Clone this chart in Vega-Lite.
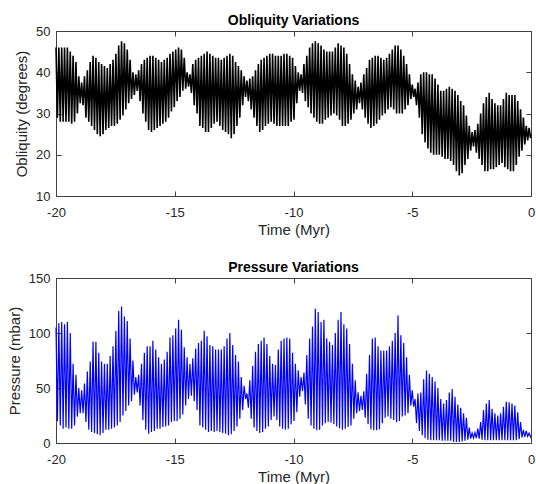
{
"$schema": "https://vega.github.io/schema/vega-lite/v6.json",
"padding": {"left": 7, "top": 14, "right": 5, "bottom": 0},
"bounds": "flush",
"spacing": 82,
"config": {
"font": "Liberation Sans",
"view": {"stroke": null},
"axis": {"grid": false, "labelFont": "Liberation Sans", "labelFontSize": 13, "labelColor": "#262626", "titleFont": "Liberation Sans", "titleFontSize": 15, "titleFontWeight": "normal", "titleColor": "#262626", "domainColor": "#404040", "tickColor": "#404040", "tickSize": -5, "minExtent": 0, "labelFlush": false, "labelExpr": "'' + datum.value"},
"title": {"font": "Liberation Sans", "fontSize": 14, "fontWeight": "bold", "color": "#000000", "offset": -3}
},
"datasets": {"d": [
{"t":-20,"o":46,"p":105},{"t":-19.94,"o":29,"p":20},
{"t":-19.88,"o":46,"p":109},{"t":-19.82,"o":28,"p":16},
{"t":-19.76,"o":46,"p":110},{"t":-19.7,"o":28,"p":13},
{"t":-19.64,"o":46,"p":108},{"t":-19.58,"o":28,"p":14},
{"t":-19.52,"o":46,"p":110},{"t":-19.46,"o":28,"p":13},
{"t":-19.4,"o":45,"p":100},{"t":-19.34,"o":27.5,"p":13},
{"t":-19.28,"o":44,"p":72},{"t":-19.22,"o":28,"p":16},
{"t":-19.16,"o":42.5,"p":62},{"t":-19.1,"o":30,"p":24},
{"t":-19.04,"o":39,"p":50},{"t":-18.98,"o":32.5,"p":27},
{"t":-18.92,"o":37.5,"p":48},{"t":-18.86,"o":32,"p":27},
{"t":-18.8,"o":39,"p":54},{"t":-18.74,"o":29,"p":19},
{"t":-18.68,"o":40.5,"p":65},{"t":-18.62,"o":28,"p":12},
{"t":-18.56,"o":42.5,"p":74},{"t":-18.5,"o":27,"p":10},
{"t":-18.44,"o":44,"p":92},{"t":-18.38,"o":26,"p":9},
{"t":-18.32,"o":43.5,"p":92},{"t":-18.26,"o":25,"p":8},
{"t":-18.2,"o":42.5,"p":82},{"t":-18.14,"o":24.5,"p":7},
{"t":-18.08,"o":42,"p":74},{"t":-18.02,"o":25,"p":9},
{"t":-17.96,"o":41.5,"p":72},{"t":-17.9,"o":26,"p":12},
{"t":-17.84,"o":41,"p":72},{"t":-17.78,"o":26.5,"p":12},
{"t":-17.72,"o":42,"p":79},{"t":-17.66,"o":27,"p":13},
{"t":-17.6,"o":43,"p":88},{"t":-17.54,"o":27,"p":14},
{"t":-17.48,"o":44.5,"p":102},{"t":-17.42,"o":27.5,"p":16},
{"t":-17.36,"o":46.5,"p":120},{"t":-17.3,"o":28.5,"p":19},
{"t":-17.24,"o":47.5,"p":124},{"t":-17.18,"o":29.5,"p":25},
{"t":-17.12,"o":47,"p":115},{"t":-17.06,"o":31,"p":29},
{"t":-17,"o":45.5,"p":111},{"t":-16.94,"o":32.5,"p":34},
{"t":-16.88,"o":43,"p":95},{"t":-16.82,"o":33.5,"p":38},
{"t":-16.76,"o":40,"p":75},{"t":-16.7,"o":34.5,"p":44},
{"t":-16.64,"o":39.5,"p":60},{"t":-16.58,"o":35.5,"p":46},
{"t":-16.52,"o":40.5,"p":62},{"t":-16.46,"o":33,"p":34},
{"t":-16.4,"o":42,"p":72},{"t":-16.34,"o":30,"p":21},
{"t":-16.28,"o":43,"p":82},{"t":-16.22,"o":28,"p":12},
{"t":-16.16,"o":43.5,"p":88},{"t":-16.1,"o":26,"p":8.5},
{"t":-16.04,"o":44,"p":88},{"t":-15.98,"o":25.5,"p":10},
{"t":-15.92,"o":44,"p":93},{"t":-15.86,"o":26,"p":11},
{"t":-15.8,"o":43.5,"p":85},{"t":-15.74,"o":26.5,"p":13},
{"t":-15.68,"o":43,"p":78},{"t":-15.62,"o":27,"p":13},
{"t":-15.56,"o":42.5,"p":72},{"t":-15.5,"o":27.5,"p":14.5},
{"t":-15.44,"o":43,"p":76},{"t":-15.38,"o":28,"p":15},
{"t":-15.32,"o":43.5,"p":83},{"t":-15.26,"o":29,"p":16},
{"t":-15.2,"o":44.5,"p":96},{"t":-15.14,"o":30.5,"p":19},
{"t":-15.08,"o":45,"p":98},{"t":-15.02,"o":31.5,"p":20},
{"t":-14.96,"o":45.5,"p":104},{"t":-14.9,"o":33,"p":20},
{"t":-14.84,"o":46,"p":112},{"t":-14.78,"o":34,"p":22},
{"t":-14.72,"o":45.5,"p":103},{"t":-14.66,"o":35.5,"p":26},
{"t":-14.6,"o":43.5,"p":87},{"t":-14.54,"o":36,"p":34},
{"t":-14.48,"o":40,"p":78},{"t":-14.42,"o":36.5,"p":40},
{"t":-14.36,"o":39.5,"p":72},{"t":-14.3,"o":35,"p":43},
{"t":-14.24,"o":42,"p":77},{"t":-14.18,"o":32,"p":38},
{"t":-14.12,"o":43,"p":86},{"t":-14.06,"o":30,"p":30},
{"t":-14,"o":43.5,"p":91},{"t":-13.94,"o":27,"p":16},
{"t":-13.88,"o":44,"p":93},{"t":-13.82,"o":26.5,"p":14},
{"t":-13.76,"o":44.5,"p":102},{"t":-13.7,"o":25.5,"p":12},
{"t":-13.64,"o":45,"p":97},{"t":-13.58,"o":25.5,"p":10},
{"t":-13.52,"o":44.5,"p":89},{"t":-13.46,"o":26.5,"p":11},
{"t":-13.4,"o":44,"p":88},{"t":-13.34,"o":27.5,"p":10},
{"t":-13.28,"o":43.5,"p":85},{"t":-13.22,"o":28,"p":11},
{"t":-13.16,"o":43.5,"p":85},{"t":-13.1,"o":27,"p":10},
{"t":-13.04,"o":43,"p":85},{"t":-12.98,"o":26,"p":9},
{"t":-12.92,"o":43.5,"p":88},{"t":-12.86,"o":25.5,"p":8.5},
{"t":-12.8,"o":44,"p":95},{"t":-12.74,"o":25,"p":7},
{"t":-12.68,"o":44.5,"p":100},{"t":-12.62,"o":24,"p":8},
{"t":-12.56,"o":44,"p":89},{"t":-12.5,"o":25,"p":11},
{"t":-12.44,"o":42.5,"p":80},{"t":-12.38,"o":27,"p":15},
{"t":-12.32,"o":41.5,"p":74},{"t":-12.26,"o":29,"p":22},
{"t":-12.2,"o":40.5,"p":60},{"t":-12.14,"o":32,"p":30},
{"t":-12.08,"o":39,"p":52},{"t":-12.02,"o":34,"p":40},
{"t":-11.96,"o":38,"p":45},{"t":-11.9,"o":33,"p":32},
{"t":-11.84,"o":38.5,"p":57},{"t":-11.78,"o":31,"p":22},
{"t":-11.72,"o":39,"p":70},{"t":-11.66,"o":29,"p":14},
{"t":-11.6,"o":40.5,"p":83},{"t":-11.54,"o":27,"p":11},
{"t":-11.48,"o":42,"p":90},{"t":-11.42,"o":25.5,"p":9},
{"t":-11.36,"o":43,"p":93},{"t":-11.3,"o":26,"p":10},
{"t":-11.24,"o":43.5,"p":96},{"t":-11.18,"o":27,"p":13},
{"t":-11.12,"o":44,"p":90},{"t":-11.06,"o":27.5,"p":15},
{"t":-11,"o":44.5,"p":79},{"t":-10.94,"o":28,"p":21},
{"t":-10.88,"o":44.5,"p":72},{"t":-10.82,"o":27.5,"p":24},
{"t":-10.76,"o":44,"p":71},{"t":-10.7,"o":27,"p":21},
{"t":-10.64,"o":44,"p":85},{"t":-10.58,"o":27,"p":15},
{"t":-10.52,"o":44,"p":93},{"t":-10.46,"o":27,"p":13},
{"t":-10.4,"o":44.5,"p":95},{"t":-10.34,"o":27,"p":12},
{"t":-10.28,"o":44.5,"p":96},{"t":-10.22,"o":27,"p":13},
{"t":-10.16,"o":44,"p":95},{"t":-10.1,"o":28,"p":17},
{"t":-10.04,"o":43.5,"p":82},{"t":-9.98,"o":28.5,"p":20},
{"t":-9.92,"o":41.5,"p":72},{"t":-9.86,"o":32.5,"p":28},
{"t":-9.8,"o":40,"p":66},{"t":-9.74,"o":35.5,"p":42},
{"t":-9.68,"o":39.5,"p":60},{"t":-9.62,"o":35,"p":47},
{"t":-9.56,"o":42,"p":64},{"t":-9.5,"o":33,"p":35},
{"t":-9.44,"o":44,"p":80},{"t":-9.38,"o":31.5,"p":22},
{"t":-9.32,"o":46,"p":95},{"t":-9.26,"o":30,"p":16},
{"t":-9.2,"o":47,"p":106},{"t":-9.14,"o":29,"p":13},
{"t":-9.08,"o":47.5,"p":122},{"t":-9.02,"o":28,"p":11.5},
{"t":-8.96,"o":47,"p":119},{"t":-8.9,"o":27.5,"p":12},
{"t":-8.84,"o":46.5,"p":110},{"t":-8.78,"o":27.5,"p":16},
{"t":-8.72,"o":45.5,"p":112},{"t":-8.66,"o":28.5,"p":18},
{"t":-8.6,"o":45,"p":95},{"t":-8.54,"o":29,"p":19},
{"t":-8.48,"o":45,"p":92},{"t":-8.42,"o":29.5,"p":18.5},
{"t":-8.36,"o":45,"p":89},{"t":-8.3,"o":30,"p":17},
{"t":-8.24,"o":46,"p":100},{"t":-8.18,"o":29.5,"p":15},
{"t":-8.12,"o":47,"p":112},{"t":-8.06,"o":28.5,"p":13.5},
{"t":-8,"o":46.5,"p":119},{"t":-7.94,"o":27,"p":12},
{"t":-7.88,"o":46,"p":108},{"t":-7.82,"o":27,"p":13},
{"t":-7.76,"o":44.5,"p":104},{"t":-7.7,"o":27.5,"p":14.5},
{"t":-7.64,"o":42,"p":90},{"t":-7.58,"o":28.5,"p":16},
{"t":-7.52,"o":39.5,"p":72},{"t":-7.46,"o":30,"p":22},
{"t":-7.4,"o":38,"p":57},{"t":-7.34,"o":31,"p":27},
{"t":-7.28,"o":36.5,"p":46},{"t":-7.22,"o":32.5,"p":29},
{"t":-7.16,"o":37.5,"p":43},{"t":-7.1,"o":31,"p":30},
{"t":-7.04,"o":39.5,"p":47},{"t":-6.98,"o":29,"p":23},
{"t":-6.92,"o":41,"p":63},{"t":-6.86,"o":27.5,"p":17},
{"t":-6.8,"o":43,"p":80},{"t":-6.74,"o":26.5,"p":12.5},
{"t":-6.68,"o":43.5,"p":95},{"t":-6.62,"o":27,"p":11.5},
{"t":-6.56,"o":44,"p":96},{"t":-6.5,"o":27.5,"p":11.5},
{"t":-6.44,"o":44,"p":88},{"t":-6.38,"o":28.5,"p":12.5},
{"t":-6.32,"o":43.5,"p":84},{"t":-6.26,"o":29.5,"p":18},
{"t":-6.2,"o":43,"p":84},{"t":-6.14,"o":30,"p":23},
{"t":-6.08,"o":43.5,"p":84},{"t":-6.02,"o":31,"p":24},
{"t":-5.96,"o":44.5,"p":88},{"t":-5.9,"o":31.5,"p":22},
{"t":-5.84,"o":45.5,"p":93},{"t":-5.78,"o":31,"p":21},
{"t":-5.72,"o":46.5,"p":100},{"t":-5.66,"o":30,"p":19},
{"t":-5.6,"o":46.5,"p":116},{"t":-5.54,"o":30,"p":20},
{"t":-5.48,"o":45.5,"p":98},{"t":-5.42,"o":30,"p":24},
{"t":-5.36,"o":44,"p":91},{"t":-5.3,"o":31,"p":25},
{"t":-5.24,"o":42,"p":78},{"t":-5.18,"o":32,"p":27},
{"t":-5.12,"o":39.5,"p":62},{"t":-5.06,"o":33.5,"p":34},
{"t":-5,"o":37,"p":48},{"t":-4.94,"o":34,"p":33},
{"t":-4.88,"o":36,"p":40},{"t":-4.82,"o":32,"p":18},
{"t":-4.76,"o":37.5,"p":45},{"t":-4.7,"o":29,"p":11},
{"t":-4.64,"o":39.5,"p":46},{"t":-4.58,"o":25,"p":7},
{"t":-4.52,"o":40,"p":58},{"t":-4.46,"o":23,"p":4.5},
{"t":-4.4,"o":40,"p":66},{"t":-4.34,"o":21.5,"p":3},
{"t":-4.28,"o":39.5,"p":63},{"t":-4.22,"o":20.5,"p":2.5},
{"t":-4.16,"o":39.5,"p":60},{"t":-4.1,"o":20,"p":2.5},
{"t":-4.04,"o":38.5,"p":56},{"t":-3.98,"o":20,"p":2.5},
{"t":-3.92,"o":37,"p":50},{"t":-3.86,"o":20,"p":2.5},
{"t":-3.8,"o":35.5,"p":40},{"t":-3.74,"o":19.5,"p":2},
{"t":-3.68,"o":35.5,"p":36},{"t":-3.62,"o":19,"p":2},
{"t":-3.56,"o":36,"p":39},{"t":-3.5,"o":19,"p":2},
{"t":-3.44,"o":36.5,"p":46},{"t":-3.38,"o":18.5,"p":2},
{"t":-3.32,"o":36,"p":49},{"t":-3.26,"o":17.5,"p":1},
{"t":-3.2,"o":35.5,"p":42},{"t":-3.14,"o":16,"p":1},
{"t":-3.08,"o":34.5,"p":35},{"t":-3.02,"o":15,"p":1},
{"t":-2.96,"o":33,"p":32},{"t":-2.9,"o":15.5,"p":1.5},
{"t":-2.84,"o":32,"p":27},{"t":-2.78,"o":17.5,"p":2},
{"t":-2.72,"o":29.5,"p":23},{"t":-2.66,"o":19,"p":3},
{"t":-2.6,"o":27,"p":14},{"t":-2.54,"o":21,"p":4},
{"t":-2.48,"o":25.5,"p":9},{"t":-2.42,"o":22,"p":4.5},
{"t":-2.36,"o":26,"p":9.5},{"t":-2.3,"o":20.5,"p":4.5},
{"t":-2.24,"o":27.5,"p":13},{"t":-2.18,"o":19,"p":4},
{"t":-2.12,"o":30,"p":19},{"t":-2.06,"o":17.5,"p":3},
{"t":-2,"o":32.5,"p":30},{"t":-1.94,"o":16,"p":2.5},
{"t":-1.88,"o":34,"p":36},{"t":-1.82,"o":16,"p":2.5},
{"t":-1.76,"o":35,"p":39},{"t":-1.7,"o":16.5,"p":2.5},
{"t":-1.64,"o":33.5,"p":31},{"t":-1.58,"o":16.5,"p":2.5},
{"t":-1.52,"o":32.5,"p":27},{"t":-1.46,"o":17,"p":2.5},
{"t":-1.4,"o":32,"p":25},{"t":-1.34,"o":17.5,"p":2.5},
{"t":-1.28,"o":32,"p":27},{"t":-1.22,"o":18,"p":2.5},
{"t":-1.16,"o":33.5,"p":33},{"t":-1.1,"o":17,"p":2.5},
{"t":-1.04,"o":35,"p":37.5},{"t":-0.98,"o":16.5,"p":2.5},
{"t":-0.92,"o":34.5,"p":37},{"t":-0.86,"o":16,"p":2.5},
{"t":-0.8,"o":34.5,"p":36},{"t":-0.74,"o":16,"p":2.5},
{"t":-0.68,"o":34.5,"p":34},{"t":-0.62,"o":17.5,"p":2.5},
{"t":-0.56,"o":33,"p":28},{"t":-0.5,"o":19.5,"p":3.5},
{"t":-0.44,"o":31,"p":19},{"t":-0.38,"o":21,"p":5},
{"t":-0.32,"o":29,"p":12},{"t":-0.26,"o":22.5,"p":5.5},
{"t":-0.2,"o":27,"p":11},{"t":-0.14,"o":23.5,"p":6},
{"t":-0.08,"o":26.5,"p":9},{"t":-0.02,"o":24,"p":5.5},
{"t":0,"o":25,"p":7}
]},
"vconcat": [
{
"width": 475, "height": 165,
"title": "Obliquity Variations",
"data": {"name": "d"},
"layer": [
{"mark": {"type": "line", "color": "#000000", "strokeWidth": 1.6},
"encoding": {
"x": {"field": "t", "type": "quantitative", "scale": {"domain": [-20, 0], "nice": false}, "axis": {"orient": "bottom", "title": "Time (Myr)", "values": [-20, -15, -10, -5, 0], "labelPadding": 15, "titlePadding": 3}},
"y": {"field": "o", "type": "quantitative", "scale": {"domain": [10, 50], "nice": false, "zero": false}, "axis": {"orient": "left", "title": "Obliquity (degrees)", "values": [10, 20, 30, 40, 50], "labelPadding": 11, "titlePadding": 6}}
}},
{"mark": {"type": "line", "opacity": 0},
"encoding": {
"x": {"field": "t", "type": "quantitative", "scale": {"domain": [-20, 0], "nice": false}, "axis": {"orient": "top", "title": null, "labels": false, "values": [-20, -15, -10, -5, 0]}},
"y": {"field": "o", "type": "quantitative", "scale": {"domain": [10, 50], "nice": false, "zero": false}, "axis": {"orient": "right", "title": null, "labels": false, "values": [10, 20, 30, 40, 50]}}
}}
],
"resolve": {"axis": {"x": "independent", "y": "independent"}}
},
{
"width": 475, "height": 165,
"title": "Pressure Variations",
"data": {"name": "d"},
"layer": [
{"mark": {"type": "line", "color": "#0000ff", "strokeWidth": 1.2},
"encoding": {
"x": {"field": "t", "type": "quantitative", "scale": {"domain": [-20, 0], "nice": false}, "axis": {"orient": "bottom", "title": "Time (Myr)", "values": [-20, -15, -10, -5, 0], "labelPadding": 15, "titlePadding": 3}},
"y": {"field": "p", "type": "quantitative", "scale": {"domain": [0, 150], "nice": false}, "axis": {"orient": "left", "title": "Pressure (mbar)", "values": [0, 50, 100, 150], "labelPadding": 11, "titlePadding": 6}}
}},
{"mark": {"type": "line", "opacity": 0},
"encoding": {
"x": {"field": "t", "type": "quantitative", "scale": {"domain": [-20, 0], "nice": false}, "axis": {"orient": "top", "title": null, "labels": false, "values": [-20, -15, -10, -5, 0]}},
"y": {"field": "p", "type": "quantitative", "scale": {"domain": [0, 150], "nice": false}, "axis": {"orient": "right", "title": null, "labels": false, "values": [0, 50, 100, 150]}}
}}
],
"resolve": {"axis": {"x": "independent", "y": "independent"}}
}
]
}
